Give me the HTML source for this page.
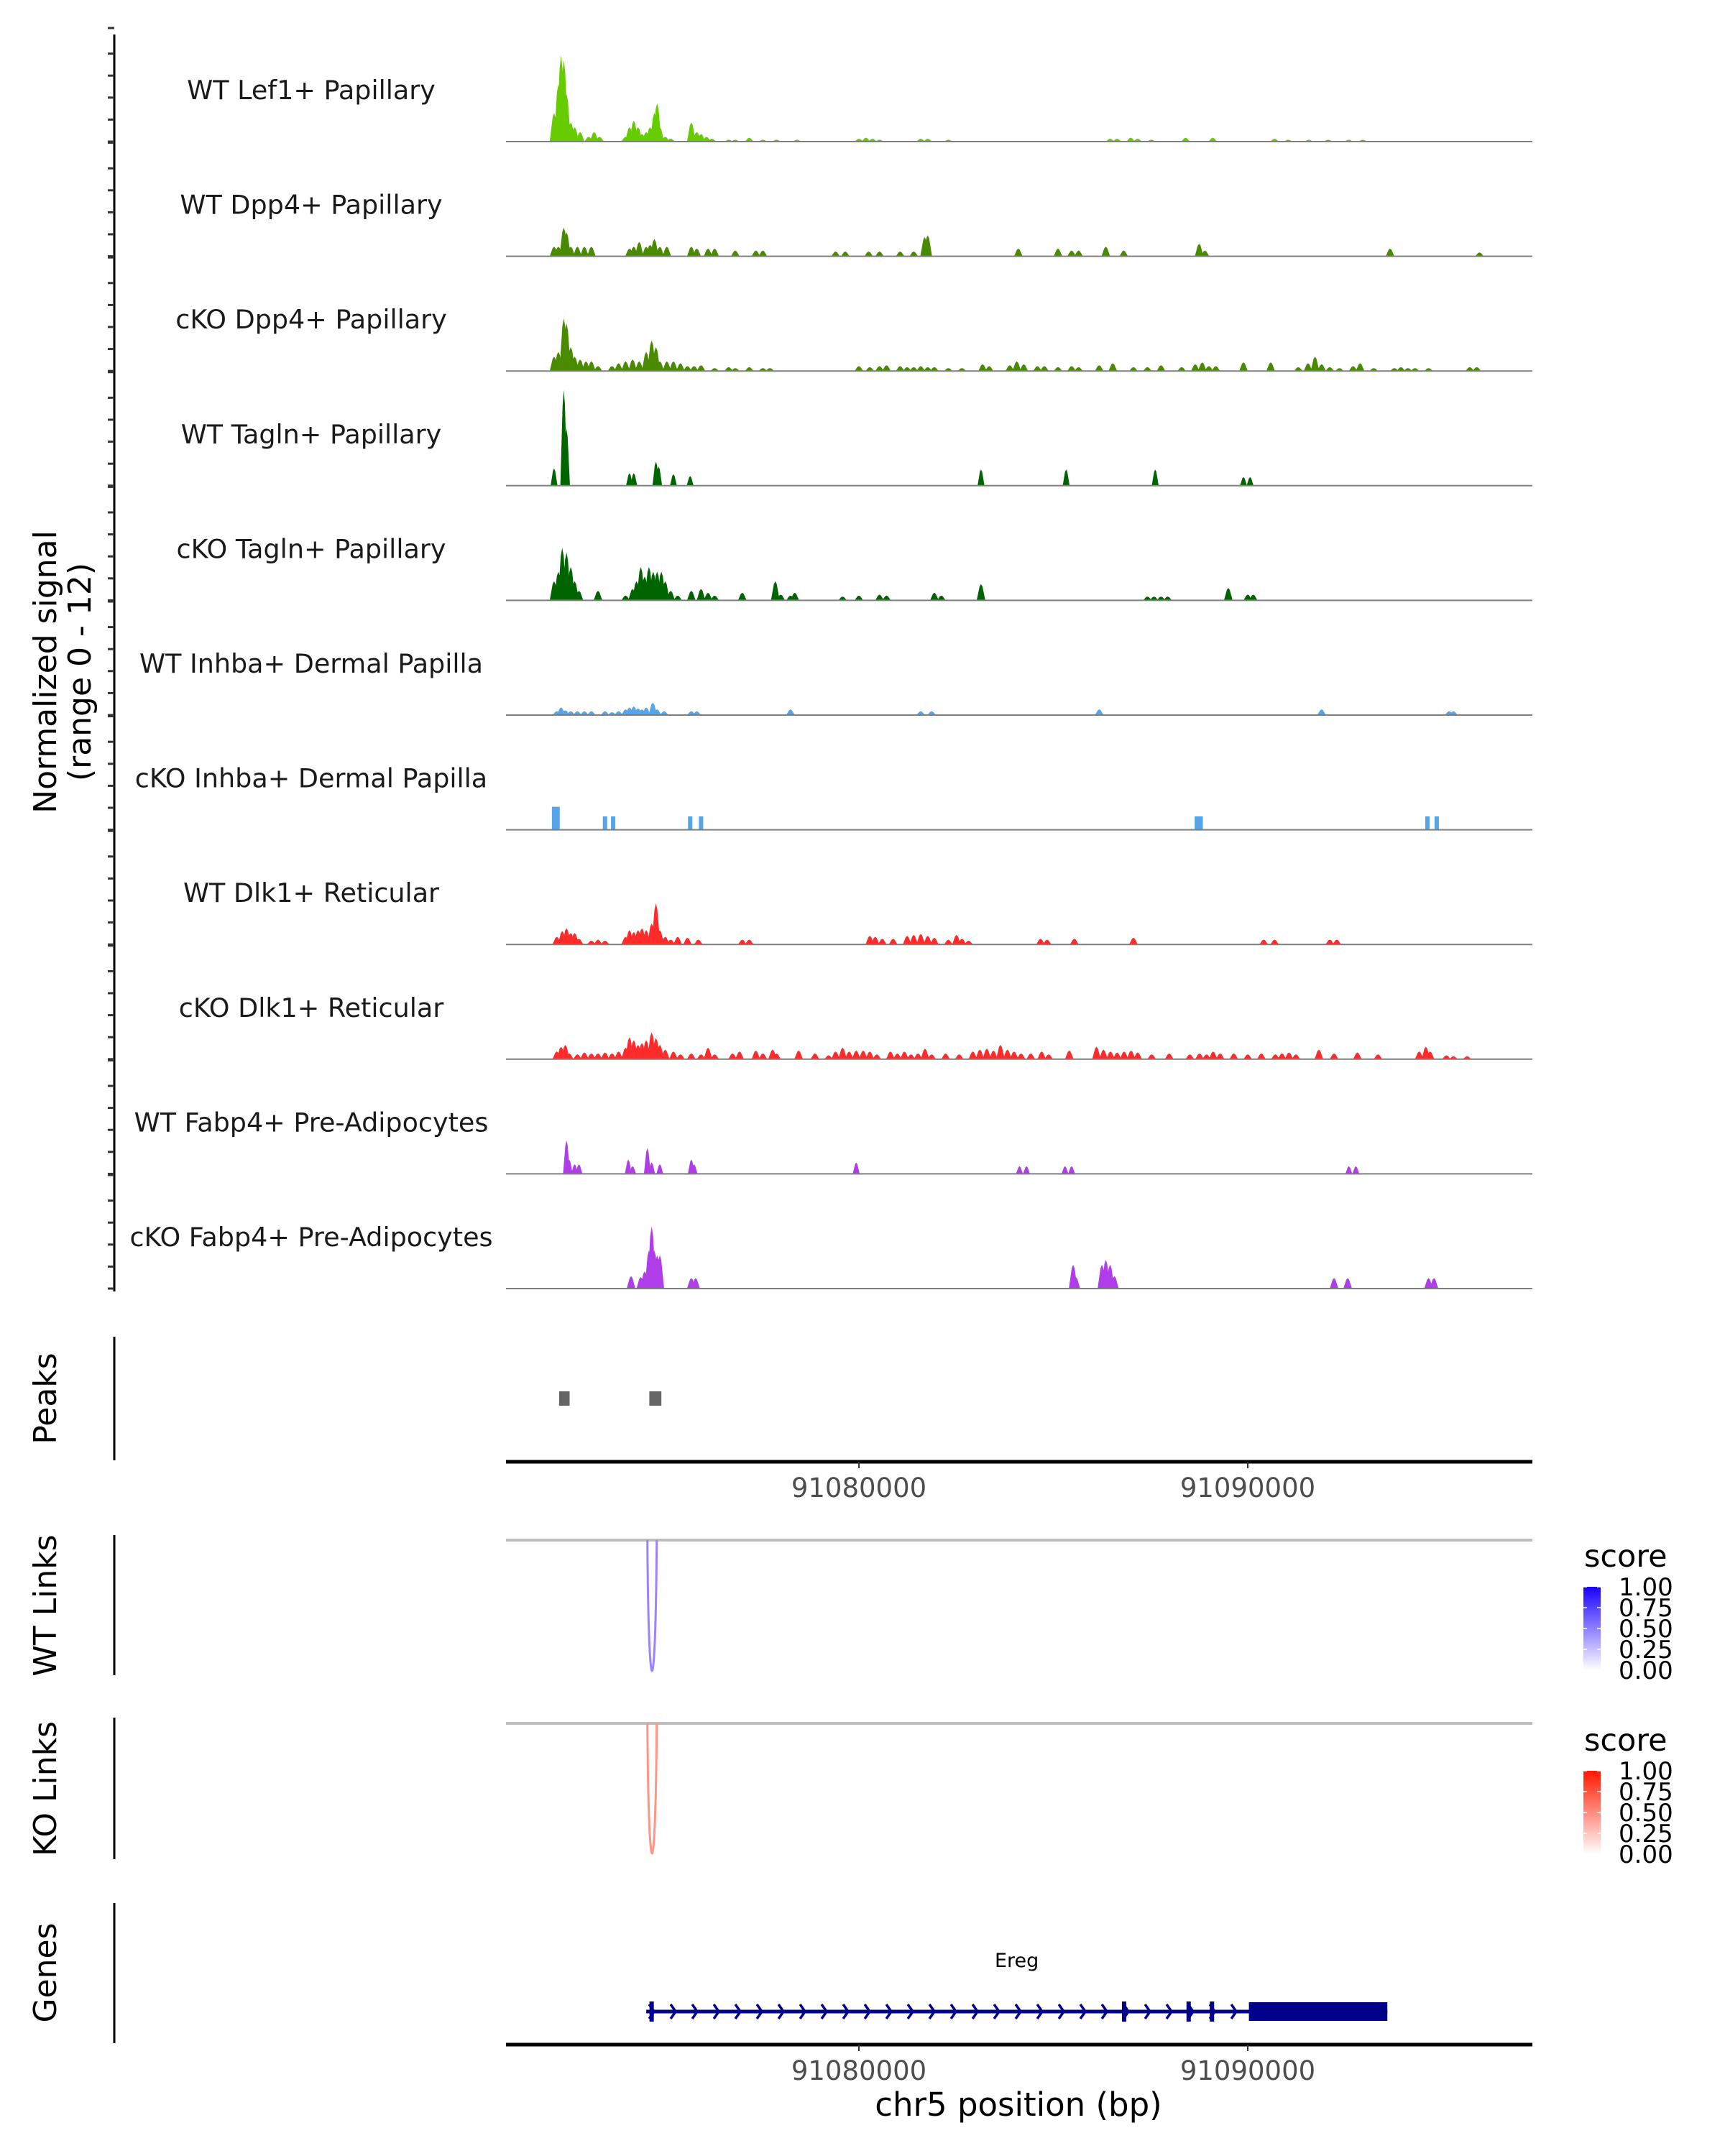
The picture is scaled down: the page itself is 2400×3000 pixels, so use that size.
<!DOCTYPE html>
<html><head><meta charset="utf-8">
<style>
html,body{margin:0;padding:0;background:#fff;}
svg{display:block;font-family:"DejaVu Sans","Liberation Sans",sans-serif;}
</style></head>
<body>
<svg id="chart" width="2400" height="3000" viewBox="0 0 2400 3000" xmlns="http://www.w3.org/2000/svg">
<g id="tracks"></g>
<text transform="translate(78,935) rotate(-90)" text-anchor="middle" font-size="44" fill="#000">Normalized signal</text>
<text transform="translate(126,935) rotate(-90)" text-anchor="middle" font-size="44" fill="#000">(range 0 - 12)</text>
<g id="peaks"></g>
<g id="links"></g>
<g id="genes"></g>
</svg>
<script>
// ---- data ----
const trackNames = ["WT Lef1+ Papillary","WT Dpp4+ Papillary","cKO Dpp4+ Papillary","WT Tagln+ Papillary","cKO Tagln+ Papillary","WT Inhba+ Dermal Papilla","cKO Inhba+ Dermal Papilla","WT Dlk1+ Reticular","cKO Dlk1+ Reticular","WT Fabp4+ Pre-Adipocytes","cKO Fabp4+ Pre-Adipocytes"];
const trackColors = ["#66cc00","#4a8a00","#4a8a00","#006400","#006400","#56a5e8","#56a5e8","#ff2a2a","#ff2a2a","#b03ee8","#b03ee8"];
// positions in kb offset from chr5:91070000; signal 0-12
const pos0 = [2.16,2.27,2.34,2.41,2.48,2.59,2.69,2.83,3.05,3.19,3.33,4.00,4.10,4.21,4.32,4.42,4.53,4.63,4.74,4.81,4.88,5.02,5.16,5.69,5.83,5.94,6.08,6.22,6.65,6.82,7.18,7.53,7.88,8.41,10.00,10.18,10.35,10.53,11.59,11.77,12.30,16.46,16.64,16.99,17.17,17.52,18.40,19.10,20.69,21.04,21.57,22.07,22.60,22.96];
const val0 = [3,6,9,8.5,5,2,1.5,1,0.5,1,0.5,0.5,1.5,2.2,1.5,0.8,1,1.5,3,4,1.5,0.5,0.3,2,1,0.8,0.5,0.3,0.2,0.2,0.4,0.2,0.2,0.2,0.3,0.4,0.3,0.2,0.3,0.3,0.2,0.3,0.3,0.4,0.3,0.2,0.4,0.4,0.3,0.2,0.2,0.2,0.2,0.2];
const pos1 = [2.16,2.27,2.41,2.48,2.59,2.76,2.94,3.12,4.10,4.21,4.35,4.53,4.63,4.74,4.88,5.06,5.69,5.83,6.12,6.29,6.82,7.35,7.53,9.40,9.65,10.25,10.53,11.06,11.41,11.69,11.77,14.10,15.12,15.47,15.65,16.35,16.81,18.75,18.90,23.66,25.96];
const val1 = [1,1,3,2.5,1,1,1,1,0.8,1,1.5,1,1.2,1.8,1,1,1,0.8,0.8,0.8,0.6,0.6,0.6,0.5,0.5,0.5,0.5,0.5,0.5,2,2.2,0.8,0.8,0.6,0.6,1,0.6,1.3,0.6,0.8,0.4];
const pos2 = [2.16,2.27,2.41,2.48,2.59,2.69,2.83,2.98,3.12,3.29,3.65,3.82,4.00,4.18,4.35,4.53,4.67,4.78,4.88,5.06,5.23,5.41,5.59,5.76,5.94,6.29,6.65,6.82,7.18,7.53,7.71,10.00,10.28,10.53,10.71,11.06,11.24,11.41,11.59,11.77,11.94,12.30,12.65,13.18,13.35,13.88,14.06,14.24,14.59,14.77,15.12,15.47,15.65,16.18,16.53,17.06,17.42,17.77,18.30,18.65,18.83,19.00,19.18,19.89,20.59,21.30,21.55,21.73,21.90,22.11,22.36,22.71,22.89,23.24,23.77,23.94,24.12,24.30,24.65,25.71,25.89];
const val2 = [1.5,2,5.5,5,2.5,1.5,1.2,1,1,0.5,0.5,0.8,1,1.2,1,2,3.2,2.5,1,1,1,0.8,0.5,0.5,0.6,0.3,0.4,0.3,0.4,0.3,0.3,0.5,0.4,0.5,0.6,0.5,0.4,0.4,0.5,0.4,0.4,0.3,0.3,0.7,0.5,0.6,1,0.7,0.5,0.5,0.4,0.5,0.4,0.6,0.8,0.4,0.4,0.6,0.4,0.7,0.9,0.5,0.5,0.9,0.9,0.4,0.8,1.5,0.7,0.4,0.3,0.5,0.8,0.3,0.3,0.4,0.3,0.3,0.3,0.4,0.4];
const pos3 = [2.16,2.41,2.48,4.10,4.21,4.78,4.85,5.23,5.66,13.14,15.33,17.62,19.89,20.06];
const val3 = [1.8,10,6,1.3,1.3,2.5,2,1.2,1,1.7,1.7,1.7,0.9,0.9];
const pos4 = [2.16,2.27,2.37,2.48,2.59,2.69,2.80,3.29,4.00,4.18,4.28,4.39,4.49,4.60,4.71,4.81,4.92,5.02,5.16,5.34,5.69,5.94,6.12,6.29,7.00,7.85,7.99,8.24,8.35,9.58,10.00,10.53,10.71,11.94,12.12,13.14,17.42,17.59,17.77,17.94,19.50,20.00,20.14];
const val4 = [2,3,5.5,5,3.5,2,1,1,0.5,1.2,2,3.5,2.5,3.5,3,3,3,2,1,0.5,1,1.2,0.8,0.5,0.8,2,0.6,0.5,0.8,0.4,0.5,0.6,0.5,0.8,0.5,1.7,0.4,0.4,0.4,0.4,1.3,0.6,0.6];
const pos5 = [2.23,2.34,2.45,2.59,2.76,2.94,3.12,3.47,3.65,3.82,4.00,4.10,4.21,4.32,4.42,4.53,4.70,4.81,4.99,5.69,5.83,8.24,11.59,11.87,16.18,21.90,25.18,25.29];
const val5 = [0.4,0.8,0.5,0.4,0.4,0.4,0.4,0.4,0.3,0.4,0.6,0.8,0.9,0.7,0.6,0.8,1.3,0.6,0.4,0.4,0.4,0.6,0.4,0.4,0.6,0.6,0.4,0.4];
const pos6 = [2.16,2.25,3.47,3.68,5.66,5.94,18.69,18.79,24.62,24.86];
const val6 = [2.4,2.4,1.4,1.4,1.4,1.4,1.4,1.4,1.4,1.4];
const pos7 = [2.23,2.37,2.48,2.59,2.69,2.80,3.12,3.29,3.47,4.00,4.10,4.21,4.32,4.42,4.53,4.67,4.78,4.88,5.02,5.16,5.34,5.59,5.87,7.00,7.18,10.28,10.42,10.60,10.88,11.24,11.41,11.59,11.77,11.94,12.30,12.51,12.65,12.82,14.67,14.84,15.54,17.06,20.41,20.69,22.11,22.29];
const val7 = [0.8,1.4,1.7,1.2,1.2,0.6,0.4,0.5,0.4,0.8,1.5,1.3,1.5,1.7,1.5,2.2,4.3,1.5,0.8,0.5,0.8,0.7,0.5,0.5,0.5,0.9,0.8,0.6,0.6,0.9,1,1.1,0.9,0.7,0.5,1,0.6,0.4,0.6,0.5,0.6,0.7,0.5,0.5,0.5,0.5];
const pos8 = [2.23,2.34,2.45,2.55,2.76,2.94,3.12,3.29,3.47,3.65,3.82,4.00,4.10,4.21,4.32,4.42,4.53,4.67,4.78,4.88,5.02,5.23,5.41,5.69,5.94,6.12,6.29,6.75,6.93,7.35,7.53,7.78,7.88,8.45,8.87,9.22,9.40,9.58,9.75,9.93,10.11,10.28,10.46,10.81,10.99,11.17,11.34,11.52,11.70,11.87,12.23,12.58,12.93,13.11,13.29,13.46,13.64,13.82,13.99,14.17,14.42,14.70,14.88,15.41,16.11,16.29,16.47,16.64,16.82,17.00,17.17,17.53,17.98,18.51,18.76,18.94,19.11,19.29,19.64,20.00,20.35,20.71,20.88,21.06,21.24,21.83,22.22,22.82,23.35,24.41,24.58,24.69,25.11,25.29,25.64];
const val8 = [0.8,1.3,1.5,0.6,0.5,0.7,0.6,0.6,0.7,0.6,0.8,1.2,2.3,2,1.5,1.7,2,2.8,2.2,1.5,1,0.8,0.5,0.6,0.5,1.2,0.5,0.6,0.8,0.9,0.6,1,0.6,0.9,0.6,0.4,0.8,1.2,0.8,0.9,0.9,0.8,0.5,0.8,0.6,0.8,0.5,0.6,1.1,0.5,0.6,0.5,0.8,1,1.1,0.9,1.5,1,0.8,0.6,0.6,0.8,0.5,0.9,1.3,1,0.8,0.7,0.8,0.9,0.7,0.5,0.6,0.5,0.6,0.5,0.8,0.6,0.6,0.5,0.6,0.5,0.6,0.7,0.5,1,0.6,0.7,0.5,0.8,1.3,0.8,0.4,0.3,0.3];
const pos9 = [2.48,2.55,2.69,2.80,4.07,4.18,4.56,4.67,4.88,5.69,5.76,9.93,14.13,14.31,15.30,15.47,22.60,22.78];
const val9 = [3.5,1.5,1,1,1.5,0.8,2.7,1.2,1,1.5,1,1.2,0.8,0.8,0.8,0.8,0.8,0.8];
const pos10 = [4.14,4.39,4.49,4.60,4.67,4.74,4.81,4.88,5.69,5.80,15.51,15.58,16.25,16.35,16.46,16.57,22.22,22.57,24.65,24.79];
const val10 = [1.3,1.2,1.8,4,6.5,4,3.5,3.5,1.1,1.1,2.5,1.2,2.5,3,2.5,1.3,1.1,1.1,1.1,1.1];
const trackPos = [pos0,pos1,pos2,pos3,pos4,pos5,pos6,pos7,pos8,pos9,pos10];
const trackVal = [val0,val1,val2,val3,val4,val5,val6,val7,val8,val9,val10];
const peakStarts = [2.29,4.61];
const peakEnds = [2.56,4.92];
const axisTicks = [10,20];
const axisTickLabels = ["91080000","91090000"];
const wtLinkStart = [4.56]; const wtLinkEnd = [4.80]; const wtLinkScore = [0.45];
const koLinkStart = [4.56]; const koLinkEnd = [4.80]; const koLinkScore = [0.45];
const legendTicks = [1.00,0.75,0.50,0.25,0.00];
const geneName = ["Ereg"];
const geneStart = [4.53]; const geneEnd = [23.59]; const cdsEnd = [20.03];
const exonPos = [4.67,16.82,18.48,19.08];

// ---- scales ----
const NS = "http://www.w3.org/2000/svg";
const X0 = 704, X1 = 2132, D0 = 0.924, D1 = 27.32;
const xs = kb => X0 + (kb - D0) / (D1 - D0) * (X1 - X0);
const base0 = 197, step = 159.6, unit = step / 12;
const ys = (i, v) => base0 + i * step - v * unit;
function mk(tag, attrs, parent) {
  const e = document.createElementNS(NS, tag);
  for (const k in attrs) e.setAttribute(k, attrs[k]);
  parent.appendChild(e); return e;
}
const svg = document.getElementById('chart');
const T = document.getElementById('tracks');

const ax = mk('line', {x1:159,y1:48,x2:159,y2:1797,stroke:'#000','stroke-width':3}, T);


for (let i = 0; i < 11; i++) {
  for (let k = 0; k <= 5; k++) {
    const y = base0 + i * step - k * 30.6 + (k === 5 ? -5 : 0);
    const t = mk('line', {x1:150,y1:y,x2:159,y2:y,stroke:'#333','stroke-width':3}, T);
    
    
  }
}
const halfW = [5,5,5,4,5,5,3,5,5,4,5];
for (let i = 0; i < 11; i++) {
  const g = mk('g', {}, T);
  
  
  const lab = mk('text', {x:433,y:base0 + i*step - 59,'text-anchor':'middle','font-size':36.5,fill:'#1a1a1a'}, g);
  lab.textContent = trackNames[i];
  
  
  const b = base0 + i * step;
  const P = trackPos[i], V = trackVal[i];
  for (let j = 0; j < P.length; j++) {
    const cx = xs(P[j]), ty = ys(i, V[j]), w = halfW[i];
    const d = i === 6
      ? `M${cx-w},${b} L${cx-w},${ty} L${cx+w},${ty} L${cx+w},${b} Z`
      : `M${cx-w*1.2},${b} L${cx-w*0.4},${ty+(b-ty)*0.15} L${cx},${ty} L${cx+w*0.4},${ty+(b-ty)*0.15} L${cx+w*1.2},${b} Z`;
    const m = mk('path', {d:d, fill:trackColors[i]}, g);
    
    
  }
  const bl = mk('line', {x1:X0,y1:b,x2:X1,y2:b,stroke:'#7f7f7f','stroke-width':2}, g);
  
  
}

function sideLabel(txt, cy, name) {
  const t = mk('text', {transform:`translate(78,${cy}) rotate(-90)`,'text-anchor':'middle','font-size':44,fill:'#000'}, svg);
  t.textContent = txt;
  
  
}
function vaxis(y1, y2, name) {
  const l = mk('line', {x1:159,y1:y1,x2:159,y2:y2,stroke:'#000','stroke-width':3}, svg);
  
  
}
function xaxis(y, name) {
  const g = mk('g', {}, svg);
  
  
  mk('line', {x1:X0,y1:y,x2:X1,y2:y,stroke:'#000','stroke-width':5}, g);
  for (let i = 0; i < axisTicks.length; i++) {
    const x = xs(axisTicks[i]);
    mk('line', {x1:x,y1:y,x2:x,y2:y+9,stroke:'#333','stroke-width':2}, g);
    const t = mk('text', {x:x,y:y+49,'text-anchor':'middle','font-size':37,fill:'#4d4d4d'}, g);
    t.textContent = axisTickLabels[i];
    
    
  }
}

const PK = document.getElementById('peaks');
sideLabel('Peaks', 1946, 'peaks-label');
vaxis(1860, 2032, 'peaks-axis-line');
for (let i = 0; i < peakStarts.length; i++) {
  const x1 = xs(peakStarts[i]), x2 = xs(peakEnds[i]);
  const r = mk('rect', {x:x1,y:1936,width:x2-x1,height:20,fill:'#666'}, PK);
  
  
}
xaxis(2034, 'peaks-x-axis');

const LK = document.getElementById('links');
function linkTrack(top, bottom, starts, ends, scores, col, name) {
  const g = mk('g', {}, LK);
  
  
  mk('line', {x1:X0,y1:top,x2:X1,y2:top,stroke:'#bebebe','stroke-width':4}, g);
  for (let i = 0; i < starts.length; i++) {
    const a = xs(starts[i]), b = xs(ends[i]), m = (a + b) / 2;
    const d = `M${a},${top} C${a+1},${top+(bottom-top)*0.8} ${m-2},${bottom} ${m},${bottom} C${m+2},${bottom} ${b-1},${top+(bottom-top)*0.8} ${b},${top}`;
    const p = mk('path', {d:d,fill:'none',stroke:col(scores[i]),'stroke-width':3}, g);
    
    
  }
}
const mix = (c, s) => `rgb(${Math.round(255+(c[0]-255)*s)},${Math.round(255+(c[1]-255)*s)},${Math.round(255+(c[2]-255)*s)})`;
sideLabel('WT Links', 2234, 'wt-links-label');
vaxis(2136, 2331, 'wt-links-axis-line');
linkTrack(2143, 2325, wtLinkStart, wtLinkEnd, wtLinkScore, s => mix([60,0,255], s*1.1), 'wt-links-track');
sideLabel('KO Links', 2489, 'ko-links-label');
vaxis(2390, 2587, 'ko-links-axis-line');
linkTrack(2398, 2579, koLinkStart, koLinkEnd, koLinkScore, s => mix([255,40,10], s*1.1), 'ko-links-track');

function legend(top, c, name) {
  const g = mk('g', {}, LK);
  
  
  const id = name + '-grad';
  const defs = mk('defs', {}, g);
  const lg = mk('linearGradient', {id:id,x1:0,y1:0,x2:0,y2:1}, defs);
  mk('stop', {offset:0,'stop-color':c}, lg);
  mk('stop', {offset:1,'stop-color':'#ffffff'}, lg);
  const t = mk('text', {x:2204,y:top,'font-size':43,fill:'#000'}, g);
  t.textContent = 'score';
  const y0 = top + 28, h = 116;
  mk('rect', {x:2203,y:y0,width:24,height:h,fill:`url(#${id})`}, g);
  for (let i = 0; i < legendTicks.length; i++) {
    const y = y0 + (1 - legendTicks[i]) * h;
    mk('line', {x1:2203,y1:y,x2:2208,y2:y,stroke:'#fff','stroke-width':1.5}, g);
    mk('line', {x1:2222,y1:y,x2:2227,y2:y,stroke:'#fff','stroke-width':1.5}, g);
    const l = mk('text', {x:2252,y:y+12,'font-size':34,fill:'#000'}, g);
    l.textContent = legendTicks[i].toFixed(2);
    
    
  }
}
legend(2180, '#1a00ff', 'wt-score-legend');
legend(2436, '#ff1a00', 'ko-score-legend');

const GN = document.getElementById('genes');
sideLabel('Genes', 2745, 'genes-label');
vaxis(2648, 2843, 'genes-axis-line');
for (let i = 0; i < geneName.length; i++) {
  const a = xs(geneStart[i]), b = xs(geneEnd[i]), c = xs(cdsEnd[i]);
  const nm = mk('text', {x:(a+b)/2,y:2737,'text-anchor':'middle','font-size':27,fill:'#000'}, GN);
  nm.textContent = geneName[i];
  
  
  const ln = mk('line', {x1:a,y1:2799,x2:b,y2:2799,stroke:'#00008b','stroke-width':5}, GN);
  
  
  for (let x = a + 8; x < c - 4; x += 30) {
    mk('path', {d:`M${x-4},${2789} L${x+3},${2799} L${x-4},${2809}`,fill:'none',stroke:'#00008b','stroke-width':3.5}, GN);
  }
  const bx = mk('rect', {x:c,y:2786,width:b-c,height:26,fill:'#00008b'}, GN);
  
  
  for (const e of exonPos) {
    const ex = xs(e);
    const r = mk('rect', {x:ex-3,y:2785,width:6,height:28,fill:'#00008b'}, GN);
    
    
  }
}
xaxis(2845, 'genes-x-axis');
const xt = mk('text', {x:1417,y:2944,'text-anchor':'middle','font-size':45,fill:'#000'}, svg);
xt.textContent = 'chr5 position (bp)';


</script>
</body></html>
